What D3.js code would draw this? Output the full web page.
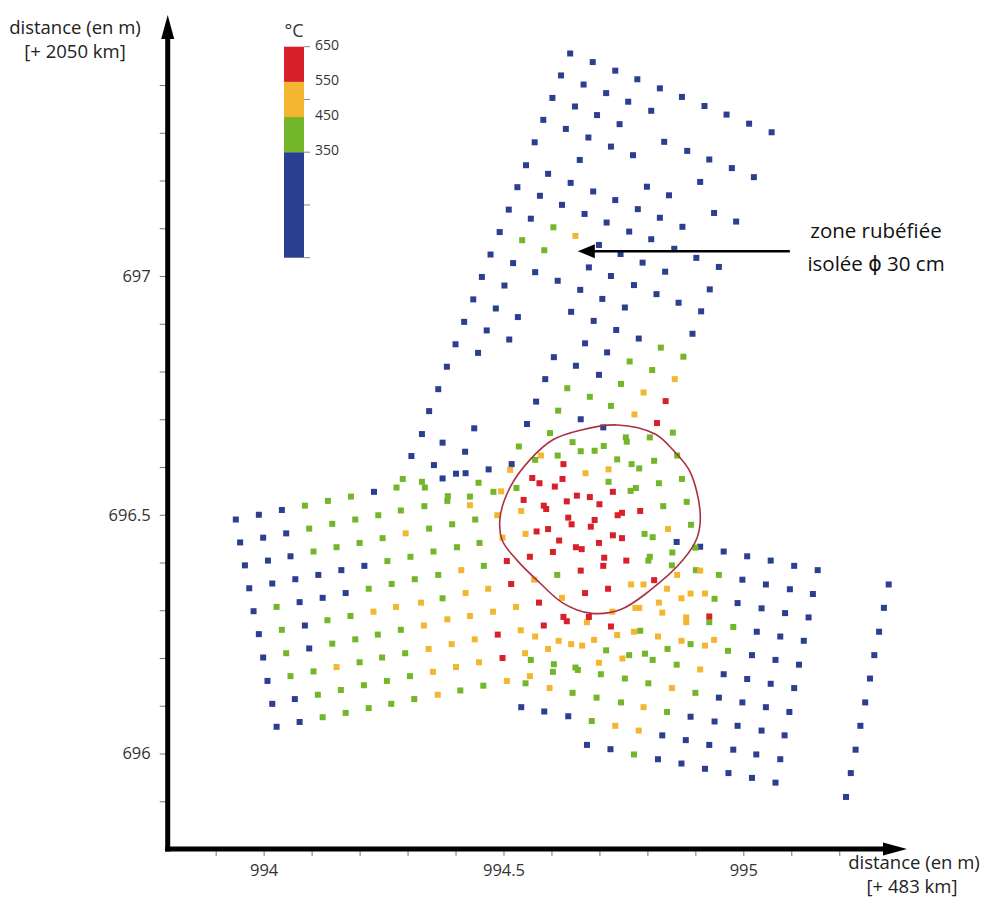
<!DOCTYPE html>
<html><head><meta charset="utf-8">
<script src="https://cdn.jsdelivr.net/npm/d3@7"></script>
<style>body{margin:0;background:#fff}svg{display:block}</style>
</head><body><svg id="c" width="986" height="899"></svg>
<script>
// ---------- data ----------
const xTickValues = [993.9,994,994.1,994.2,994.3,994.4,994.5,994.6,994.7,994.8,994.9,995,995.1,995.2];
const xTickLabels = {"994":"994","994.5":"994.5","995":"995"};
const yTickValues = [695.9,696,696.1,696.2,696.3,696.4,696.5,696.6,696.7,696.8,696.9,697,697.1,697.2,697.3,697.4];
const yTickLabels = {"696":"696","696.5":"696.5","697":"697"};
const bandNames = ["< 350 °C","350–450 °C","450–550 °C","550–650 °C"];
const bandColors = ["#2a3f8f","#73b62a","#f4b530","#d7202a"];
const legendBreaks = [50,350,450,550,650];
const legendTicks = [650,500,350,200,50];
const legendLabels = [650,550,450,350];

const pointsBlue = [[994.639,697.466],[994.686,697.448],[994.733,697.430],[994.620,697.420],[994.779,697.412],[994.667,697.401],[994.826,697.393],[994.714,697.383],[994.872,697.375],[994.602,697.373],[994.760,697.365],[994.919,697.356],[994.649,697.355],[994.808,697.346],[994.965,697.338],[994.695,697.337],[994.583,697.327],[995.012,697.319],[994.742,697.318],[994.630,697.308],[995.059,697.301],[994.677,697.290],[994.835,697.281],[994.565,697.280],[994.724,697.271],[994.883,697.262],[994.770,697.253],[994.929,697.244],[994.659,697.243],[994.547,697.232],[994.976,697.226],[994.593,697.214],[995.022,697.207],[994.910,697.197],[994.640,697.195],[994.799,697.187],[994.529,697.186],[994.687,697.177],[994.845,697.169],[994.576,697.168],[994.733,697.159],[994.622,697.149],[994.780,697.140],[994.511,697.139],[994.939,697.132],[994.669,697.130],[994.826,697.122],[994.557,697.120],[994.985,697.114],[994.715,697.112],[994.873,697.103],[994.762,697.093],[994.492,697.092],[994.808,697.077],
[994.699,697.065],[994.473,697.045],[994.520,697.027],[994.566,697.008],[994.613,696.990],[994.678,697.018],[994.660,696.971],[994.706,696.952],[994.724,697.000],[994.455,696.998],[994.502,696.980],[994.437,696.951],[994.484,696.932],[994.530,696.914],[994.641,696.925],[994.688,696.906],[994.418,696.904],[994.465,696.886],[994.512,696.867],[994.670,696.859],[994.716,696.840],[994.400,696.857],[994.447,696.839],[994.605,696.830],[994.651,696.812],[994.699,696.793],[994.382,696.810],[994.587,696.784],[994.364,696.763],[994.568,696.737],[994.661,696.700],[994.345,696.717],[994.549,696.690],[994.439,696.681],
[994.856,697.057],[994.744,697.046],[994.902,697.038],[994.790,697.028],[994.949,697.019],[994.837,697.009],[994.772,696.981],[994.930,696.972],[994.819,696.962],[994.865,696.944],[994.753,696.934],[994.912,696.926],[994.735,696.887],[994.782,696.869],[994.894,696.879],[994.708,696.683],
[994.330,696.669],[994.373,696.651],[994.420,696.632],[994.355,696.604],[994.401,696.586],[994.421,696.587],[994.469,696.595],[994.517,696.606],[994.373,696.576],
[994.861,696.443],[994.910,696.433],[994.959,696.423],[995.008,696.413],[995.057,696.404],[995.106,696.393],[995.155,696.384],[994.998,696.364],[995.047,696.354],[995.097,696.344],[995.145,696.334],[994.988,696.315],[995.038,696.304],[995.087,696.294],[995.136,696.285],
[995.028,696.255],[995.077,696.245],[995.126,696.236],[995.018,696.206],[995.067,696.196],[995.116,696.186],[994.959,696.166],[995.008,696.156],[995.057,696.146],[995.106,696.137],[994.949,696.117],[994.998,696.107],[995.047,696.097],[995.096,696.087],[994.890,696.077],[994.940,696.067],[994.988,696.058],[995.038,696.048],[995.086,696.038],[994.831,696.038],[994.880,696.028],[994.929,696.018],[994.979,696.008],[995.027,695.998],[995.077,695.988],[994.822,695.988],[994.871,695.979],[994.920,695.968],[994.969,695.959],[995.018,695.949],[995.067,695.939],
[994.537,696.097],[994.585,696.088],[994.635,696.078],[994.674,696.018],[994.723,696.009],
[994.308,696.623],[994.230,696.548],[994.038,696.510],[993.990,696.500],[993.942,696.490],[994.047,696.461],[993.999,696.452],[993.951,696.442],[994.056,696.413],[994.009,696.404],[993.961,696.394],[994.210,696.393],[994.162,696.384],[994.114,696.374],[994.066,696.365],[994.018,696.356],[993.970,696.346],[994.171,696.336],[994.123,696.326],[994.075,696.317],[993.979,696.298],
[994.086,696.268],[993.990,696.250],[994.095,696.220],[993.999,696.201],[994.008,696.152],[994.065,696.114],[994.018,696.104],[994.075,696.066],[994.027,696.056],
[995.303,696.354],[995.293,696.305],[995.283,696.255],[995.273,696.206],[995.264,696.157],[995.254,696.107],[995.244,696.058],[995.234,696.008],[995.224,695.959],[995.214,695.909]];

const pointsGreen = [[994.604,697.102],[994.539,697.075],[994.585,697.054],[994.633,696.765],[994.680,696.747],[994.724,696.728],[994.614,696.718],[994.828,696.850],[994.875,696.831],[994.763,696.821],[994.810,696.803],[994.745,696.774],
[994.597,696.671],[994.532,696.643],[994.644,696.652],[994.661,696.633],[994.690,696.634],[994.709,696.644],[994.755,696.662],[994.757,696.653],[994.613,696.624],[994.566,696.615],[994.737,696.616],[994.719,696.569],[994.765,696.550],[994.330,696.569],[994.336,696.557],[994.448,696.567],[994.479,696.548],[994.527,696.556],[994.384,696.539],[994.383,696.529],[994.430,696.538],[994.335,696.518],[994.441,696.490],[994.393,696.480],[994.345,696.471],[994.450,696.441],[994.403,696.432],[994.354,696.423],[994.459,696.393],[994.364,696.374],[994.612,696.374],[994.373,696.325],
[994.853,696.672],[994.805,696.662],[994.862,696.624],[994.814,696.613],[994.767,696.606],[994.783,696.597],[994.872,696.575],[994.824,696.566],[994.776,696.556],[994.882,696.527],[994.833,696.518],[994.891,696.479],[994.794,696.460],[994.811,696.453],[994.900,696.431],[994.852,696.421],[994.805,696.412],[994.802,696.404],[994.851,696.394],[994.901,696.384],[994.949,696.374],[994.940,696.324],
[994.929,696.275],[994.979,696.265],[994.785,696.257],[994.890,696.229],[994.968,696.215],[994.762,696.206],[994.795,696.209],[994.811,696.196],[994.842,696.219],[994.861,696.186],[994.753,696.157],[994.802,696.147],[994.900,696.127],[994.745,696.107],[994.841,696.087],[994.772,695.998],
[994.714,696.216],[994.557,696.196],[994.605,696.187],[994.603,696.171],[994.650,696.180],[994.655,696.175],[994.703,696.166],[994.546,696.147],[994.458,696.142],[994.410,696.132],[994.644,696.127],[994.694,696.117],[994.684,696.068],
[994.290,696.575],[994.277,696.557],[994.182,696.538],[994.134,696.529],[994.086,696.519],[994.286,696.509],[994.239,696.499],[994.191,696.490],[994.143,696.481],[994.095,696.471],[994.248,696.451],[994.200,696.441],[994.152,696.432],[994.104,696.423],[994.306,696.412],[994.258,696.403],[994.315,696.365],[994.267,696.355],[994.219,696.345],[994.027,696.307],[994.181,696.288],[994.133,696.279],
[994.038,696.259],[994.286,696.259],[994.238,696.249],[994.191,696.239],[994.143,696.230],[994.047,696.210],[994.295,696.210],[994.247,696.201],[994.200,696.191],[994.104,696.172],[994.056,696.162],[994.305,696.162],[994.257,696.152],[994.209,696.143],[994.161,696.133],[994.113,696.123],[994.314,696.114],[994.266,696.104],[994.219,696.095],[994.171,696.085],[994.123,696.076]];

const pointsYellow = [[994.650,697.084],[994.857,696.784],[994.792,696.756],[994.773,696.710],[994.578,696.624],[994.514,696.594],[994.671,696.587],[994.719,696.595],[994.495,696.549],[994.430,696.520],[994.537,696.508],[994.487,696.499],[994.546,696.460],[994.498,696.452],[994.412,696.384],[994.564,696.364],[994.468,696.345],[994.421,696.336],[994.328,696.316],[994.622,696.326],[994.526,696.307],[994.478,696.297],[994.430,696.288],[994.383,696.281],[994.727,696.297],
[994.843,696.470],[994.910,696.383],[994.862,696.374],[994.766,696.354],[994.792,696.354],[994.841,696.345],[994.890,696.335],[994.920,696.335],[994.871,696.325],[994.824,696.316],[994.775,696.305],[994.783,696.305],[994.831,696.295],[994.881,696.285],[994.881,696.275],[994.772,696.255],[994.822,696.245],[994.871,696.236],[994.920,696.226],[994.939,696.238],[994.748,696.199],[994.910,696.176],[994.851,696.137],[994.792,696.097],[994.782,696.048],
[994.674,696.275],[994.737,696.248],[994.536,696.258],[994.566,696.245],[994.440,696.239],[994.392,696.229],[994.344,696.219],[994.334,696.268],[994.615,696.236],[994.641,696.229],[994.664,696.226],[994.689,696.238],[994.593,696.219],[994.545,696.210],[994.449,696.191],[994.401,696.181],[994.353,696.171],[994.699,696.190],[994.555,696.162],[994.507,696.152],[994.363,696.123],[994.596,696.137],[994.733,696.058],
[994.296,696.461],[994.276,696.307],[994.229,696.297],[994.152,696.181]];

const pointsRed = [[994.838,696.738],[994.820,696.692],[994.625,696.606],[994.560,696.577],[994.575,696.566],[994.623,696.575],[994.607,696.559],[994.542,696.531],[994.584,696.519],[994.589,696.512],[994.632,696.528],[994.653,696.540],[994.680,696.537],[994.700,696.522],[994.728,696.548],[994.635,696.494],[994.642,696.480],[994.690,696.489],[994.682,696.475],[994.738,696.499],[994.747,696.504],[994.593,696.470],[994.569,696.465],[994.616,696.446],[994.651,696.432],[994.663,696.428],[994.699,696.441],[994.728,696.457],[994.747,696.451],[994.603,696.422],[994.555,696.412],[994.507,696.403],[994.710,696.410],[994.708,696.393],[994.756,696.404],[994.661,696.383],[994.516,696.355],[994.718,696.345],[994.670,696.336],[994.574,696.316],[994.678,696.286],[994.625,696.286],[994.632,696.277],[994.785,696.508],[994.814,696.363],[994.929,696.287],[994.724,696.266],[994.584,696.268],[994.488,696.249],[994.498,696.200]];

const zoneOutline = [[994.737,696.688],[994.660,696.677],[994.603,696.657],[994.555,696.615],[994.514,696.558],[994.493,696.495],[994.497,696.447],[994.528,696.405],[994.576,696.357],[994.624,696.315],[994.680,696.294],[994.743,696.301],[994.806,696.342],[994.874,696.405],[994.904,696.453],[994.910,696.504],[994.889,696.590],[994.853,696.636],[994.816,696.669]];

const annotationTarget = [994.655, 697.052];
const annotationLines = ["zone rubéfiée","isolée ϕ 30 cm"];

// ---------- drawing ----------
const FONT = "'Open Sans', 'DejaVu Sans', sans-serif";
const svg = d3.select("#c");
const x = d3.scaleLinear().domain([993.8, 995.3]).range([167.7, 167.7 + 1.5*479.7]);
const y = d3.scaleLinear().domain([695.8, 697.5]).range([849, 849 - 1.7*477.5]);

// ticks
const fmtX = d => xTickLabels[String(+d.toFixed(1))] || "";
const fmtY = d => yTickLabels[String(+d.toFixed(1))] || "";
const gx = svg.append("g").attr("transform","translate(0,849)")
  .call(d3.axisBottom(x).tickValues(xTickValues).tickSize(7).tickPadding(8).tickFormat(fmtX));
const gy = svg.append("g").attr("transform","translate(167.7,0)")
  .call(d3.axisLeft(y).tickValues(yTickValues).tickSize(8).tickPadding(9).tickFormat(fmtY));
[gx, gy].forEach(g => {
  g.select(".domain").remove();
  g.selectAll(".tick line").attr("stroke","#777").attr("stroke-width",1);
  g.selectAll(".tick text").attr("fill","#333").style("font-family",FONT).style("font-size","16.5px");
});

// axis lines with arrows
svg.append("line").attr("x1",167.7).attr("x2",167.7).attr("y1",851.5).attr("y2",36)
  .attr("stroke","#000").attr("stroke-width",5);
svg.append("path").attr("d",`M167.7,15 L161.2,39 L174.2,39 Z`).attr("fill","#000");
svg.append("line").attr("x1",165.2).attr("x2",886).attr("y1",849).attr("y2",849)
  .attr("stroke","#000").attr("stroke-width",5);
svg.append("path").attr("d",`M907,849 L883,842.5 L883,855.5 Z`).attr("fill","#000");

// axis titles
const title = (tx, ty, t) => svg.append("text").attr("x",tx).attr("y",ty).attr("text-anchor","middle")
  .style("font-family",FONT).style("font-size","18.5px").attr("fill","#222").text(t);
title(75,34,"distance (en m)");
title(75,58,"[+ 2050 km]");
title(914,869,"distance (en m)");
title(912,893,"[+ 483 km]");

// colour scale
const colour = d3.scaleThreshold().domain([350,450,550]).range(bandColors);
const ly = d3.scaleLinear().domain([50,650]).range([257.7,46.7]);
const leg = svg.append("g");
for (let i = 0; i < legendBreaks.length-1; i++) {
  const lo = legendBreaks[i], hi = legendBreaks[i+1];
  leg.append("rect").attr("x",284).attr("width",20)
    .attr("y",ly(hi)).attr("height",ly(lo)-ly(hi)).attr("fill",colour((lo+hi)/2));
}
leg.selectAll("line.lt").data(legendTicks).join("line").attr("class","lt")
  .attr("x1",304).attr("x2",310).attr("y1",d=>ly(d)).attr("y2",d=>ly(d))
  .attr("stroke","#888").attr("stroke-width",1);
leg.selectAll("text.ll").data(legendLabels).join("text").attr("class","ll")
  .attr("x",315).attr("y",d=>ly(d)+3).style("font-family",FONT).style("font-size","14px")
  .attr("fill","#333").text(d=>d);
leg.append("text").attr("x",294).attr("y",37).attr("text-anchor","middle")
  .style("font-family",FONT).style("font-size","18px").attr("fill","#333").text("°C");

// points
const groups = [[pointsBlue,300],[pointsGreen,400],[pointsYellow,500],[pointsRed,600]];
const S = 6;
groups.forEach(([pts,t]) => {
  svg.append("g").selectAll("rect").data(pts).join("rect")
    .attr("x",d=>x(d[0])-S/2).attr("y",d=>y(d[1])-S/2)
    .attr("width",S).attr("height",S).attr("fill",colour(t));
});

// outline of the zone
svg.append("path").datum(zoneOutline)
  .attr("d", d3.line().x(d=>x(d[0])).y(d=>y(d[1])).curve(d3.curveCatmullRomClosed.alpha(0.5)))
  .attr("fill","none").attr("stroke","#a8323f").attr("stroke-width",1.6);

// annotation arrow
const ax = x(annotationTarget[0]), ay = y(annotationTarget[1]);
svg.append("line").attr("x1",ax+14).attr("x2",ax+212).attr("y1",ay).attr("y2",ay)
  .attr("stroke","#000").attr("stroke-width",2.5);
svg.append("path").attr("d",`M${ax},${ay} L${ax+17},${ay-7} L${ax+17},${ay+7} Z`).attr("fill","#000");
annotationLines.forEach((t,i) => {
  svg.append("text").attr("x",876).attr("y",238 + i*33).attr("text-anchor","middle")
    .style("font-family",FONT).style("font-size","20.5px").attr("fill","#111").text(t);
});
</script>
</body></html>
